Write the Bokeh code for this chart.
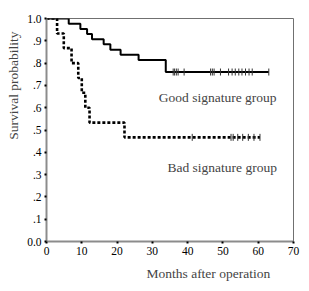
import numpy as np
from bokeh.plotting import figure
from bokeh.models import Range1d, FixedTicker, Label, Title
from bokeh.embed import file_html
from bokeh.resources import INLINE

# Good signature group: step times (months) and survival values
good_times = [0, 6.3, 9.6, 11.5, 12.9, 16.2, 18.1, 21.0, 26.1, 33.8]
good_surv = [1.0, 0.977, 0.953, 0.930, 0.907, 0.884, 0.860, 0.837, 0.814, 0.760]
good_end = 63.0
good_censor = [35.9, 36.3, 36.8, 37.3, 39.0, 46.5, 47.0, 47.5, 49.3,
               51.6, 52.6, 53.5, 54.5, 55.4, 56.4, 57.4, 58.3, 63.0]

# Bad signature group
bad_times = [0, 3.0, 4.9, 7.1, 9.0, 10.0, 11.0, 12.2, 22.1]
bad_surv = [1.0, 0.933, 0.867, 0.800, 0.733, 0.667, 0.600, 0.533, 0.467]
bad_end = 60.5
bad_censor = [41.3, 52.3, 52.9, 54.2, 55.6, 57.2, 58.8, 60.5]

x_ticks = [0, 10, 20, 30, 40, 50, 60, 70]
y_ticks = [0.0, 0.1, 0.2, 0.3, 0.4, 0.5, 0.6, 0.7, 0.8, 0.9, 1.0]
y_tick_labels = ["0.0", ".1", ".2", ".3", ".4", ".5", ".6", ".7", ".8", ".9", "1.0"]

FONT = "Liberation Serif"

p = figure(width=309, height=291, output_backend="svg", toolbar_location=None,
           x_range=Range1d(0, 70), y_range=Range1d(0, 1.0),
           min_border_left=46, min_border_right=16, min_border_top=18, min_border_bottom=50)
p.background_fill_color = "white"
p.border_fill_color = "white"
p.xgrid.visible = False
p.ygrid.visible = False
p.outline_line_color = "#707070"
p.outline_line_width = 1

for ax in (p.xaxis[0], p.yaxis[0]):
    ax.axis_line_color = "#8c8c8c"
    ax.axis_line_width = 2
    ax.major_tick_line_color = "black"
    ax.major_tick_line_width = 2
    ax.major_tick_in = 0
    ax.major_tick_out = 2
    ax.minor_tick_line_color = None
    ax.major_label_text_font = FONT
    ax.major_label_text_font_size = "11.5px"
    ax.major_label_text_color = "black"
    ax.major_label_standoff = 3

p.xaxis.ticker = FixedTicker(ticks=x_ticks)
p.yaxis.ticker = FixedTicker(ticks=y_ticks)
p.yaxis.major_label_overrides = {v: s for v, s in zip(y_ticks, y_tick_labels)}

# survival curves
gx = good_times + [good_end]
gy = good_surv + [good_surv[-1]]
bx = bad_times + [bad_end]
by = bad_surv + [bad_surv[-1]]

p.step(bx, by, mode="after", line_color="black", line_width=2.6, line_dash="3 2")
p.step(gx, gy, mode="after", line_color="black", line_width=2)

# censor marks
p.scatter(good_censor, [good_surv[-1]] * len(good_censor), marker="dash",
          angle=np.pi / 2, size=7, line_color="#333333", line_width=1)
p.scatter(bad_censor, [bad_surv[-1]] * len(bad_censor), marker="dash",
          angle=np.pi / 2, size=7, line_color="#333333", line_width=1)

# group labels
p.add_layout(Label(x=48.5, y=0.644, text="Good signature group", text_font=FONT,
                   text_font_size="13.5px", text_align="center", text_baseline="middle"))
p.add_layout(Label(x=49.8, y=0.334, text="Bad signature group", text_font=FONT,
                   text_font_size="13.5px", text_align="center", text_baseline="middle"))

# axis titles as side titles (positioned off-centre like the reference)
ytitle = Title(text="Survival probability", text_font=FONT, text_font_size="13.5px",
               text_font_style="normal", align="right", offset=13, standoff=7)
p.add_layout(ytitle, "left")
xtitle = Title(text="Months after operation", text_font=FONT, text_font_size="13.5px",
               text_font_style="normal", align="left", offset=100, standoff=12)
p.add_layout(xtitle, "below")

open("out.html", "w").write(file_html(p, INLINE))
